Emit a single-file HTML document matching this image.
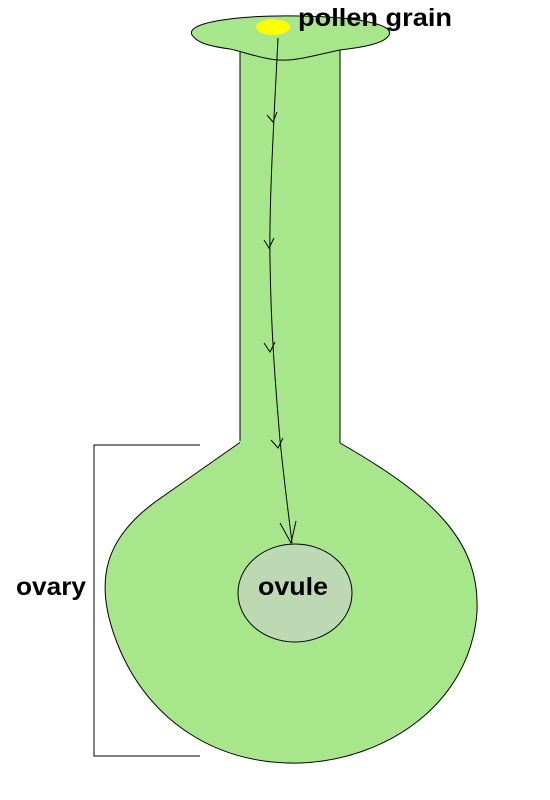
<!DOCTYPE html>
<html><head><meta charset="utf-8"><style>
body{margin:0;background:#fff;width:550px;height:800px;overflow:hidden}
svg{display:block}
text{font-family:"Liberation Sans",sans-serif;font-weight:bold;fill:#000}
</style></head><body>
<svg width="550" height="800" viewBox="0 0 550 800">
<path d="M242,441 L165,495 C105,535 90,580 120,650 C150,720 215,765 300,763 C385,760 470,705 477,612 C480,545 440,500 340,443 Z" fill="#a8e68c" stroke="#000" stroke-width="1"/>
<rect x="240" y="45" width="100" height="402" fill="#a8e68c"/>
<path d="M240,45 L240,441 M340,45 L340,443" stroke="#000" stroke-width="1" fill="none"/>
<path d="M192,35 C185,22 240,15 300,16 C360,17 395,25 389,35 C384,45 355,48 340,50 C310,56 290,64 265,58 C250,55 240,51 230,49 C200,45 196,40 192,35 Z" fill="#a8e68c" stroke="#000" stroke-width="1"/>
<ellipse cx="273" cy="27" rx="17" ry="8" fill="#ffff00"/>
<ellipse cx="295" cy="593" rx="57" ry="49" fill="#bcd9b4" stroke="#000" stroke-width="1"/>
<path d="M278,38 C274,120 269,200 270,260 C271,330 275,380 280,440 C284,480 288,510 292,543" fill="none" stroke="#000" stroke-width="1"/>
<g fill="none" stroke="#000" stroke-width="1">
<path d="M267,115 L273,122 L277,112"/>
<path d="M264,240 L269,248 L274,238"/>
<path d="M264,343 L270,352 L275,342"/>
<path d="M271,440 L278,448 L283,438"/>
<path d="M280,523 L291,543 L296,521"/>
</g>
<path d="M200,445 L94,445 L94,756 L200,756" fill="none" stroke="#000" stroke-width="1"/>
<text x="298" y="26" font-size="25" textLength="154" lengthAdjust="spacingAndGlyphs">pollen grain</text>
<text x="16" y="595" font-size="25" textLength="70" lengthAdjust="spacingAndGlyphs">ovary</text>
<text x="258" y="595" font-size="25" textLength="70" lengthAdjust="spacingAndGlyphs">ovule</text>
</svg>
</body></html>
